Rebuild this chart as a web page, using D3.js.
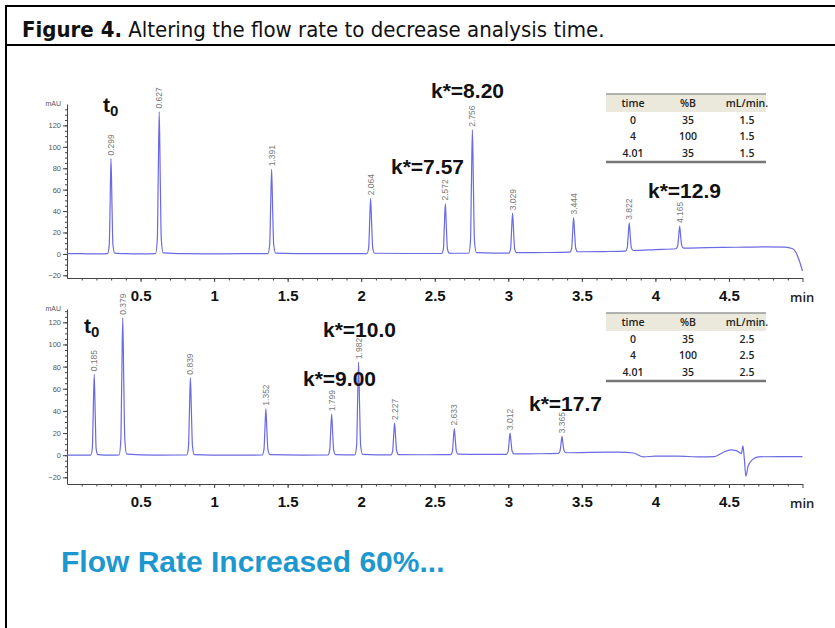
<!DOCTYPE html>
<html lang="en">
<head>
<meta charset="UTF-8">
<title>Figure 4. Altering the flow rate to decrease analysis time.</title>
<script src="https://d3js.org/d3.v7.min.js"></script>
<style>
    body { margin: 0; background: #fff; }
    svg { display: block; }
    .tick-small text { font-family: "Liberation Sans", Arial, sans-serif; font-size: 7.5px; fill: #555; }
    .x-major text { font-family: "Liberation Sans", Arial, sans-serif; font-size: 15px; font-weight: bold; fill: #111; }
    .axis path, .axis line { stroke: #444; }
</style>
</head>
<body>
<svg id="chart" width="835" height="628"></svg>
<script>
// ---- run 1: 1.5 mL/min ----
const topTrace = [
    [0.00, 0.3], [0.10, 0.2], [0.20, 0.0], [0.276, 0.2], [0.287, 8], [0.293, 45], [0.299, 89],
    [0.306, 45], [0.312, 9], [0.324, 0.8], [0.40, 0.2], [0.50, 0.0], [0.602, 0.3], [0.614, 14],
    [0.620, 70], [0.627, 133], [0.634, 70], [0.641, 14], [0.654, 1], [0.80, 0.2], [1.00, 0.0],
    [1.20, 0.2], [1.366, 0.3], [1.378, 9], [1.384, 42], [1.391, 79], [1.398, 42], [1.405, 9],
    [1.418, 0.8], [1.70, 0.3], [2.039, 0.3], [2.051, 6], [2.057, 28], [2.064, 52], [2.071, 28],
    [2.078, 6], [2.091, 0.6], [2.30, 0.4], [2.547, 0.4], [2.559, 5], [2.565, 25], [2.572, 47],
    [2.579, 25], [2.586, 5], [2.599, 0.8], [2.65, 0.6], [2.731, 0.6], [2.743, 12], [2.749, 62],
    [2.756, 116], [2.763, 62], [2.770, 12], [2.783, 1.2], [2.90, 0.8], [3.004, 0.8], [3.016, 5],
    [3.022, 21], [3.029, 38], [3.036, 21], [3.043, 5], [3.056, 1.2], [3.25, 1.3], [3.419, 1.6],
    [3.431, 5.5], [3.437, 19], [3.444, 34], [3.451, 19], [3.458, 5.5], [3.471, 2.0], [3.65, 2.2],
    [3.797, 2.6], [3.809, 6], [3.815, 17], [3.822, 29], [3.829, 17], [3.836, 6], [3.849, 3.2],
    [4.00, 4.0], [4.140, 4.8], [4.152, 8], [4.158, 16], [4.165, 26], [4.172, 16], [4.179, 8],
    [4.192, 5.4], [4.35, 5.8], [4.55, 6.2], [4.75, 6.6], [4.88, 6.4], [4.93, 5.0], [4.955, 1.5],
    [4.975, -5], [5.00, -16]
];
const topPeakTimes = [0.299, 0.627, 1.391, 2.064, 2.572, 2.756, 3.029, 3.444, 3.822, 4.165];
const topPeakHeights = [89, 133, 79, 52, 47, 116, 38, 34, 29, 26];
const topTable = [["0", "35", "1.5"], ["4", "100", "1.5"], ["4.01", "35", "1.5"]];

// ---- run 2: 2.5 mL/min ----
const bottomTrace = [
    [0.00, 0.0], [0.10, 0.0], [0.162, 0.1], [0.172, 6], [0.178, 36], [0.185, 73], [0.192, 36],
    [0.198, 6], [0.210, 0.5], [0.30, 0.0], [0.354, 0.2], [0.366, 14], [0.372, 66], [0.379, 124],
    [0.386, 66], [0.393, 14], [0.406, 1], [0.60, 0.0], [0.814, 0.2], [0.826, 8], [0.832, 38],
    [0.839, 70], [0.846, 38], [0.853, 8], [0.866, 0.6], [1.10, 0.0], [1.327, 0.2], [1.339, 5],
    [1.345, 22], [1.352, 42], [1.359, 22], [1.366, 5], [1.379, 0.5], [1.60, 0.1], [1.774, 0.2],
    [1.786, 4.5], [1.792, 20], [1.799, 37], [1.806, 20], [1.813, 4.5], [1.826, 0.5], [1.957, 0.3],
    [1.969, 9], [1.975, 45], [1.982, 84], [1.989, 45], [1.996, 9], [2.009, 0.8], [2.202, 0.3],
    [2.214, 4], [2.220, 16], [2.227, 29], [2.234, 16], [2.241, 4], [2.254, 0.6], [2.45, 0.4],
    [2.608, 0.5], [2.620, 3.5], [2.626, 13.5], [2.633, 24], [2.640, 13.5], [2.647, 3.5],
    [2.660, 0.9], [2.85, 0.8], [2.987, 0.8], [2.999, 3.5], [3.005, 11.5], [3.012, 20], [3.019, 11.5],
    [3.026, 3.5], [3.039, 1.2], [3.20, 1.3], [3.340, 1.6], [3.352, 4], [3.358, 10], [3.365, 17],
    [3.372, 10], [3.379, 4], [3.392, 2.2], [3.55, 2.6], [3.75, 2.8], [3.85, 2.0], [3.92, -1.5],
    [4.00, -0.8], [4.15, -0.8], [4.30, -1.5], [4.40, -1.2], [4.46, 2.5], [4.51, 4.8], [4.55, 4.2],
    [4.585, 1.5], [4.595, 8.5], [4.605, -4], [4.615, -19], [4.63, -10], [4.66, -4], [4.70, -1.5],
    [4.85, -1.2], [5.00, -1.2]
];
const bottomPeakTimes = [0.185, 0.379, 0.839, 1.352, 1.799, 1.982, 2.227, 2.633, 3.012, 3.365];
const bottomPeakHeights = [73, 124, 70, 42, 37, 84, 29, 24, 20, 17];
const bottomTable = [["0", "35", "2.5"], ["4", "100", "2.5"], ["4.01", "35", "2.5"]];

const tableHeader = ["time", "%B", "mL/min."];
const xLabels = [0.5, 1, 1.5, 2, 2.5, 3, 3.5, 4, 4.5];
const yLabels = [-20, 0, 20, 40, 60, 80, 100, 120];

const svg = d3.select("#chart");
const boldFont = '"Liberation Sans", Arial, sans-serif';

// frame + title
svg.append("line").attr("x1", 6).attr("x2", 6).attr("y1", 5).attr("y2", 628)
    .attr("stroke", "#000").attr("stroke-width", 2);
svg.append("line").attr("x1", 5).attr("x2", 835).attr("y1", 6).attr("y2", 6)
    .attr("stroke", "#000").attr("stroke-width", 2);
svg.append("line").attr("x1", 5).attr("x2", 835).attr("y1", 45).attr("y2", 45)
    .attr("stroke", "#000").attr("stroke-width", 2);

const title = svg.append("text")
    .attr("x", 22).attr("y", 37)
    .style("font-family", '"Liberation Sans Narrow", "DejaVu Sans Condensed", sans-serif')
    .style("font-size", "22px").attr("fill", "#111");
title.append("tspan").attr("font-weight", "bold").text("Figure 4.");
title.append("tspan").text(" Altering the flow rate to decrease analysis time.");

const x = d3.scaleLinear().domain([0, 5]).range([67, 802.5]);

function drawRun(cfg) {
    const y = d3.scaleLinear().domain(cfg.yDomain).range(cfg.yRange);
    const g = svg.append("g");
    const axisY = cfg.yRange[0];

    // minor y ticks every 5
    g.append("g").attr("class", "axis")
        .attr("transform", `translate(${x(0)},0)`)
        .call(d3.axisLeft(y).tickValues(d3.range(-20, cfg.yDomain[1], 5)).tickSize(2).tickFormat(""))
        .call(s => s.select(".domain").remove());

    // major y ticks
    g.append("g").attr("class", "axis tick-small")
        .attr("transform", `translate(${x(0)},0)`)
        .call(d3.axisLeft(y).tickValues(yLabels).tickSize(4).tickPadding(2).tickSizeOuter(0));

    g.append("text").attr("x", x(0) - 6).attr("y", cfg.yRange[1] + 2)
        .attr("text-anchor", "end").attr("font-family", boldFont)
        .attr("font-size", "7px").attr("fill", "#555").text("mAU");

    // minor x ticks every 0.1
    g.append("g").attr("class", "axis")
        .attr("transform", `translate(0,${axisY})`)
        .call(d3.axisBottom(x).tickValues(d3.range(1, 50).map(i => i / 10)).tickSize(2.5).tickFormat(""))
        .call(s => s.select(".domain").remove());

    // major x ticks with labels
    g.append("g").attr("class", "axis x-major")
        .attr("transform", `translate(0,${axisY})`)
        .call(d3.axisBottom(x).tickValues(xLabels.concat([5])).tickSize(4).tickPadding(8)
            .tickSizeOuter(0).tickFormat(d => d === 5 ? "" : d));

    g.append("text").attr("x", 790).attr("y", axisY + 24)
        .attr("font-family", '"Open Sans", sans-serif').attr("font-weight", 600)
        .attr("font-size", "13px").attr("fill", "#222").text("min");

    // trace
    const line = d3.line().x(d => x(d[0])).y(d => y(d[1])).curve(d3.curveMonotoneX);
    g.append("path").datum(cfg.trace)
        .attr("fill", "none").attr("stroke", "#6a6ae2").attr("stroke-width", 1.2)
        .attr("d", line);

    // retention time labels
    g.selectAll(".rt").data(cfg.times).enter().append("text")
        .attr("class", "rt")
        .attr("transform", (d, i) => `translate(${x(d)},${y(cfg.heights[i]) - 3}) rotate(-90)`)
        .attr("dy", "0.35em")
        .attr("font-family", boldFont).attr("font-size", "8.5px").attr("fill", "#777")
        .text(d => d3.format(".3f")(d));

    // gradient table
    const tx = 606, tw = 160, ty = cfg.tableTop;
    const cols = [633, 688, 747];
    g.append("rect").attr("x", tx).attr("y", ty).attr("width", tw).attr("height", 18)
        .attr("fill", "#ebe9dc");
    g.append("line").attr("x1", tx).attr("x2", tx + tw).attr("y1", ty).attr("y2", ty)
        .attr("stroke", "#999").attr("stroke-width", 1.5);
    g.append("line").attr("x1", tx).attr("x2", tx + tw).attr("y1", ty + 68).attr("y2", ty + 68)
        .attr("stroke", "#777").attr("stroke-width", 2.5);
    const rows = [tableHeader].concat(cfg.table);
    rows.forEach((r, ri) => {
        r.forEach((c, ci) => {
            g.append("text").attr("x", cols[ci]).attr("y", ty + 13 + ri * 16.7)
                .attr("text-anchor", "middle")
                .attr("font-family", '"Open Sans", sans-serif').attr("font-weight", 600)
                .attr("font-size", "10.5px").attr("fill", "#222").text(c);
        });
    });

    // annotations
    cfg.notes.forEach(n => {
        g.append("text").attr("x", n[1]).attr("y", n[2])
            .attr("font-family", boldFont).attr("font-weight", "bold")
            .attr("font-size", "21px").attr("fill", "#111").text(n[0]);
    });
    const t0 = g.append("text").attr("x", cfg.t0[0]).attr("y", cfg.t0[1])
        .attr("font-family", boldFont).attr("font-weight", "bold").attr("fill", "#111");
    t0.append("tspan").attr("font-size", "21px").text("t");
    t0.append("tspan").attr("font-size", "15px").attr("dy", 4).text("0");
}

drawRun({
    trace: topTrace, times: topPeakTimes, heights: topPeakHeights, table: topTable,
    yDomain: [-22.5, 140], yRange: [278, 104], tableTop: 94,
    notes: [["k*=8.20", 431, 98], ["k*=7.57", 391, 174], ["k*=12.9", 648, 198]],
    t0: [103, 112]
});

drawRun({
    trace: bottomTrace, times: bottomPeakTimes, heights: bottomPeakHeights, table: bottomTable,
    yDomain: [-26, 132], yRange: [484, 309], tableTop: 313,
    notes: [["k*=10.0", 323, 337], ["k*=9.00", 303, 386], ["k*=17.7", 529, 411]],
    t0: [84, 333]
});

svg.append("text").attr("x", 61).attr("y", 572)
    .attr("font-family", boldFont).attr("font-weight", "bold")
    .attr("font-size", "30px").attr("fill", "#1d98cf")
    .text("Flow Rate Increased 60%...");
</script>
</body>
</html>
